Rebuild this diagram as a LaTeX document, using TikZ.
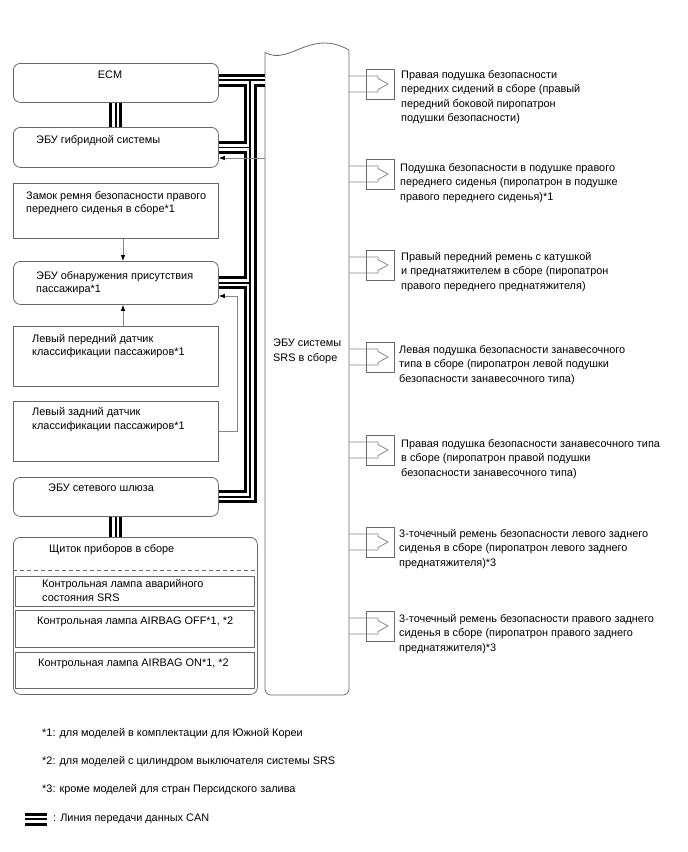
\documentclass[tikz,border=0pt]{standalone}
\usepackage{fontspec}
\setmainfont{Liberation Sans}
\usetikzlibrary{arrows.meta}
\definecolor{lc}{RGB}{105,105,105}
\definecolor{wc}{RGB}{135,135,135}
\begin{document}
\begin{tikzpicture}[x=1pt,y=-1pt,
  font=\fontsize{10.9}{14.5}\selectfont,
  rbox/.style={draw=lc, line width=0.8pt, rounded corners=7pt, inner sep=0pt, anchor=north west},
  sbox/.style={draw=lc, line width=0.8pt, inner sep=0pt, anchor=north west},
  txt/.style={anchor=base west, align=left, inner sep=0pt},
  txtL/.style={txt, font=\fontsize{10.9}{13.5}\selectfont},
  wire/.style={draw=wc, line width=0.8pt},
  arr/.style={wire, -{Latex[length=6pt,width=4.5pt,color=black]}},
  canO/.style={line width=13pt, black},
  canW/.style={line width=7pt, white},
  canC/.style={line width=1.8pt, black}]
\useasboundingbox (0,0) rectangle (688,852);

% left boxes
\node[rbox, minimum width=205pt, minimum height=39pt] (ecm) at (13,63) {};
\node[rbox, minimum width=205pt, minimum height=40pt] (hyb) at (13,127) {};
\node[sbox, minimum width=205pt, minimum height=55pt] (buckle) at (13,183) {};
\node[rbox, minimum width=205pt, minimum height=43pt] (occ) at (13,261) {};
\node[sbox, minimum width=205pt, minimum height=60pt] (fs) at (13,326) {};
\node[sbox, minimum width=205pt, minimum height=60pt] (rs) at (13,401) {};
\node[rbox, minimum width=205pt, minimum height=39pt] (gw) at (13,477) {};
\node[rbox, minimum width=244pt, minimum height=157pt] (ic) at (13,537) {};
\draw[lc, line width=0.8pt, dashed, dash pattern=on 4pt off 3pt] (ic.west |- 0,570) -- (ic.east |- 0,570);
\node[sbox, minimum width=239pt, minimum height=30pt] (l1) at (15,576) {};
\node[sbox, minimum width=239pt, minimum height=37pt] (l2) at (15,610) {};
\node[sbox, minimum width=239pt, minimum height=36pt] (l3) at (15,652) {};

% SRS body
\node[anchor=north west, minimum width=84pt, minimum height=643pt, inner sep=0pt] (srs) at (265,52) {};
\draw[lc, line width=0.8pt] (265,52.5) .. controls (290,66) and (310,28) .. (349,50)
  -- (349,689) arc[start angle=0, end angle=90, radius=6] -- (271,695)
  arc[start angle=90, end angle=180, radius=6] -- cycle;

% texts (base = baseline of the last line)
\node[anchor=base, inner sep=0pt] at (110,78) {ECM};
\node[txt] at (36,143) {ЭБУ гибридной системы};
\node[txtL] at (26,212.5) {Замок ремня безопасности правого\\переднего сиденья в сборе*1};
\node[txtL] at (36,292.5) {ЭБУ обнаружения присутствия\\пассажира*1};
\node[txtL] at (32,355.5) {Левый передний датчик\\классификации пассажиров*1};
\node[txtL] at (32,429) {Левый задний датчик\\классификации пассажиров*1};
\node[txt] at (48,491) {ЭБУ сетевого шлюза};
\node[txt] at (49,552) {Щиток приборов в сборе};
\node[txtL] at (42,601) {Контрольная лампа аварийного\\состояния SRS};
\node[txt] at (37,624) {Контрольная лампа AIRBAG OFF*1, *2};
\node[txt] at (38,666) {Контрольная лампа AIRBAG ON*1, *2};
\node[txt] at (273,361) {ЭБУ системы\\SRS в сборе};

\node[txt] at (401,121.5) {Правая подушка безопасности\\передних сидений в сборе (правый\\передний боковой пиропатрон\\подушки безопасности)};
\node[txt] at (400,200) {Подушка безопасности в подушке правого\\переднего сиденья (пиропатрон в подушке\\правого переднего сиденья)*1};
\node[txt] at (401,289) {Правый передний ремень с катушкой\\и преднатяжителем в сборе (пиропатрон\\правого переднего преднатяжителя)};
\node[txt] at (399,382) {Левая подушка безопасности занавесочного\\типа в сборе (пиропатрон левой подушки\\безопасности занавесочного типа)};
\node[txt] at (401,476) {Правая подушка безопасности занавесочного типа\\в сборе (пиропатрон правой подушки\\безопасности занавесочного типа)};
\node[txt] at (399,566) {3-точечный ремень безопасности левого заднего\\сиденья в сборе (пиропатрон левого заднего\\преднатяжителя)*3};
\node[txt] at (399,651) {3-точечный ремень безопасности правого заднего\\сиденья в сборе (пиропатрон правого заднего\\преднатяжителя)*3};

\node[txt] at (42,736) {*1: для моделей в комплектации для Южной Кореи};
\node[txt] at (42,764) {*2: для моделей с цилиндром выключателя системы SRS};
\node[txt] at (42,792) {*3: кроме моделей для стран Персидского залива};
\node[txt] (legt) at (53,821) {: Линия передачи данных CAN};

% CAN bus
\coordinate (t1) at (250,80);
\coordinate (lg1) at (25,819);
\coordinate (lg2) at (47,819);
\foreach \s in {canO,canW,canC}{
  \draw[\s] (ecm.east |- t1) -- (srs.west |- t1);
  \draw[\s] (t1) |- (gw.east);
  \draw[\s] (hyb.east) -- (t1 |- hyb.east);
  \draw[\s] (occ.east) -- (t1 |- occ.east);
  \draw[\s] (ecm.south) -- (hyb.north);
  \draw[\s] (gw.south) -- (ic.north -| gw.south);
  \draw[\s] (lg1) -- (lg2);
}

% wires
\draw[arr] (buckle.south -| 123,0) -- (occ.north -| 123,0);
\draw[arr] (fs.north -| 123,0) -- (occ.south -| 123,0);
\coordinate (rj) at (237,296);
\draw[arr] (rs.east) -| (rj) -- (occ.east |- rj);
\draw[arr] (srs.west |- 0,158) -- (hyb.east |- 0,158);

% connectors
\foreach \i/\c in {1/84,2/174,3/265,4/357,5/450,6/542,7/626}{
  \node[sbox, anchor=center, minimum width=28pt, minimum height=30pt] (c\i) at (380,\c) {};
  \draw[wire] (srs.east |- 0,{\c-8}) -- (378,{\c-8}) -- (378,{\c-5.5}) -- (388,\c)
     -- (378,{\c+5.5}) -- (378,{\c+8}) -- (srs.east |- 0,{\c+8});
}
\end{tikzpicture}
\end{document}
